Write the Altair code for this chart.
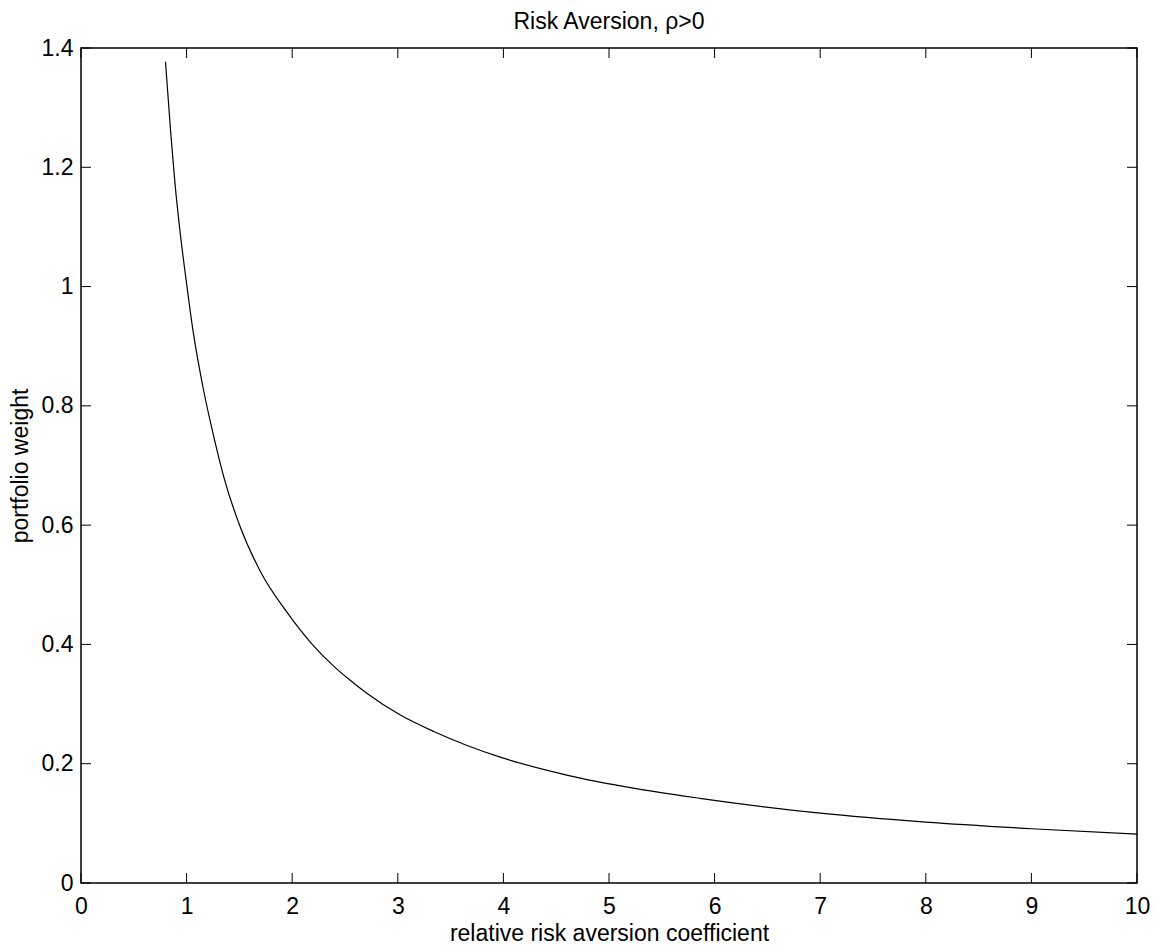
import altair as alt
import pandas as pd

# Values
gamma = [0.80, 0.85, 0.89, 0.94, 1.00, 1.06, 1.16, 1.25, 1.36, 1.51, 1.70, 1.95,
         2.20, 2.39, 2.52, 2.70, 3.02, 3.34, 3.65, 3.97, 4.60, 5.23, 5.86,
         7.00, 8.00, 9.00, 10.00]
weight = [1.377, 1.257, 1.173, 1.089, 1.005, 0.927, 0.827, 0.754, 0.676, 0.596,
          0.522, 0.454, 0.398, 0.364, 0.344, 0.319, 0.282, 0.254, 0.231, 0.211,
          0.181, 0.159, 0.142, 0.117, 0.102, 0.091, 0.082]

x_ticks = [0, 1, 2, 3, 4, 5, 6, 7, 8, 9, 10]
y_ticks = [0, 0.2, 0.4, 0.6, 0.8, 1.0, 1.2, 1.4]

W, H = 1056, 835
FONT = "Liberation Sans"
FS = 23
TL = 10

curve_df = pd.DataFrame({"x": gamma, "y": weight})
xt_df = pd.DataFrame({"x": x_ticks})
yt_df = pd.DataFrame({"y": y_ticks})

xscale = alt.Scale(domain=[0, 10], nice=False, zero=False)
yscale = alt.Scale(domain=[0, 1.4], nice=False, zero=False)

xaxis = alt.Axis(values=x_ticks, title="relative risk aversion coefficient",
                 grid=False, domain=False, tickSize=0, labelPadding=12,
                 labelFlush=False, labelOverlap=False,
                 labelFont=FONT, labelFontSize=FS, labelColor="black",
                 titleFont=FONT, titleFontSize=FS, titleFontWeight="normal",
                 titleColor="black", titleBaseline="alphabetic",
                 titleX=W / 2, titleY=57, format="~r")
yaxis = alt.Axis(values=y_ticks, title="portfolio weight",
                 grid=False, domain=False, tickSize=0, labelPadding=8,
                 labelFlush=False, labelOverlap=False,
                 labelFont=FONT, labelFontSize=FS, labelColor="black",
                 titleFont=FONT, titleFontSize=FS, titleFontWeight="normal",
                 titleColor="black", titleBaseline="alphabetic",
                 titleX=-54, titleY=H / 2, titleAngle=-90, format="~r")

curve = alt.Chart(curve_df).mark_line(color="black", strokeWidth=1.2, interpolate="monotone").encode(
    x=alt.X("x:Q", scale=xscale, axis=xaxis),
    y=alt.Y("y:Q", scale=yscale, axis=yaxis),
)

tick_bottom = alt.Chart(xt_df).mark_rule(color="black", strokeWidth=1).encode(
    x=alt.X("x:Q", scale=xscale, axis=xaxis), y=alt.value(H), y2=alt.value(H - TL))
tick_top = alt.Chart(xt_df).mark_rule(color="black", strokeWidth=1).encode(
    x=alt.X("x:Q", scale=xscale, axis=xaxis), y=alt.value(0), y2=alt.value(TL))
tick_left = alt.Chart(yt_df).mark_rule(color="black", strokeWidth=1).encode(
    y=alt.Y("y:Q", scale=yscale, axis=yaxis), x=alt.value(0), x2=alt.value(TL))
tick_right = alt.Chart(yt_df).mark_rule(color="black", strokeWidth=1).encode(
    y=alt.Y("y:Q", scale=yscale, axis=yaxis), x=alt.value(W), x2=alt.value(W - TL))

chart = alt.layer(curve, tick_bottom, tick_top, tick_left, tick_right).properties(
    width=W, height=H,
    title=alt.TitleParams("Risk Aversion, ρ>0", font=FONT, fontSize=FS, fontWeight="normal",
                          color="black", anchor="middle", baseline="alphabetic",
                          offset=18, dy=33),
    autosize=alt.AutoSizeParams(type="none"),
    padding={"left": 81, "top": 48, "right": 19, "bottom": 65},
    background="white",
).configure_view(stroke="black", strokeWidth=1.5)

chart.save("out.html", embed_options={"renderer": "svg", "actions": False})
